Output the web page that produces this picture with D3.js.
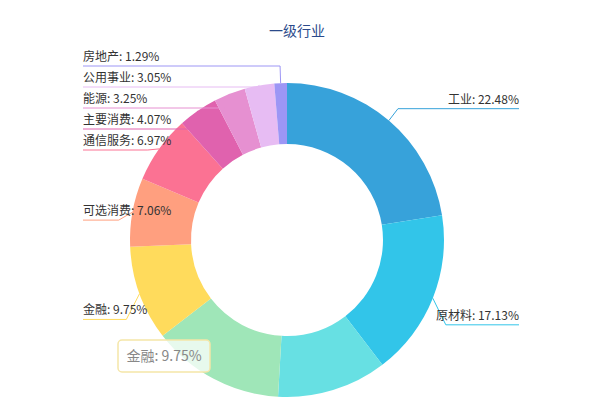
<!DOCTYPE html>
<html><head><meta charset="utf-8">
<script src="https://cdn.jsdelivr.net/npm/d3@7"></script>
<style>body{margin:0;background:#fff;font-family:"Noto Sans CJK SC","Noto Sans",sans-serif}</style>
</head><body>
<svg id="chart" width="600" height="400"></svg>
<script>
var names = ["工业","原材料","医疗保健","信息技术","金融","可选消费","通信服务","主要消费","能源","公用事业","房地产"];
var values = [22.48,17.13,11.3,13.65,9.75,7.06,6.97,4.07,3.25,3.05,1.29];
var colors = ["#37a2da","#32c5e9","#67e0e3","#9fe6b8","#ffdb5c","#ff9f7f","#fb7293","#e062ae","#e690d1","#e7bcf3","#9d96f5"];
var hiddenLabels = ["医疗保健","信息技术"];

var svg = d3.select("#chart");
var cx = 287, cy = 240, rOut = 157, rIn = 96;

svg.append("text").attr("x", 297).attr("y", 36).attr("text-anchor", "middle")
   .attr("font-size", 14).attr("fill", "#2b4a8b").text("一级行业");

var data = names.map(function(n, i) { return {name: n, value: values[i], color: colors[i]}; });
var pie = d3.pie().sort(null).value(function(d) { return d.value; });
var arcs = pie(data);
var arc = d3.arc().innerRadius(rIn).outerRadius(rOut);

var g = svg.append("g").attr("transform", "translate(" + cx + "," + cy + ")");
g.selectAll("path").data(arcs).enter().append("path")
  .attr("d", arc).attr("fill", function(d) { return d.data.color; });

// labels
var labs = arcs.filter(function(d) { return hiddenLabels.indexOf(d.data.name) < 0; }).map(function(d) {
  var a = (d.startAngle + d.endAngle) / 2;
  var c = Math.cos(a);
  return {d: d, a: a, right: Math.sin(a) > 0,
    px: cx + Math.sin(a) * rOut, py: cy - c * rOut,
    ex: cx + Math.sin(a) * (rOut + 14), ey: cy - c * (rOut + 14) + 14 - 20 * c};
});
var left = labs.filter(function(l) { return !l.right; }).sort(function(a, b) { return a.ey - b.ey; });
var prev = 45;
left.forEach(function(l) {
  if (l.ey < prev + 21) l.ey = prev + 21;
  prev = l.ey;
});

labs.forEach(function(l) {
  var lineY = l.ey;
  var txt = l.d.data.name + ": " + l.d.data.value.toFixed(2) + "%";
  var tx = l.right ? 519 : 83;
  var path = d3.path();
  path.moveTo(l.px, l.py);
  path.lineTo(l.ex, lineY);
  path.lineTo(tx, lineY);
  svg.append("path").attr("d", path.toString()).attr("fill", "none")
     .attr("stroke", l.d.data.color).attr("stroke-width", 1);
  svg.append("text").attr("x", tx).attr("y", lineY - 5)
     .attr("text-anchor", l.right ? "end" : "start")
     .attr("font-size", 12).attr("fill", "#333").text(txt);
});

// tooltip
var tip = svg.append("g").attr("transform", "translate(118,340)");
tip.append("rect").attr("width", 92).attr("height", 32).attr("rx", 4)
   .attr("fill", "rgba(255,255,255,0.75)").attr("stroke", "#f5e6a8").attr("stroke-width", 1.5);
tip.append("text").attr("x", 46).attr("y", 21).attr("text-anchor", "middle")
   .attr("font-size", 14).attr("fill", "#888").text("金融: 9.75%");
</script>
</body></html>
